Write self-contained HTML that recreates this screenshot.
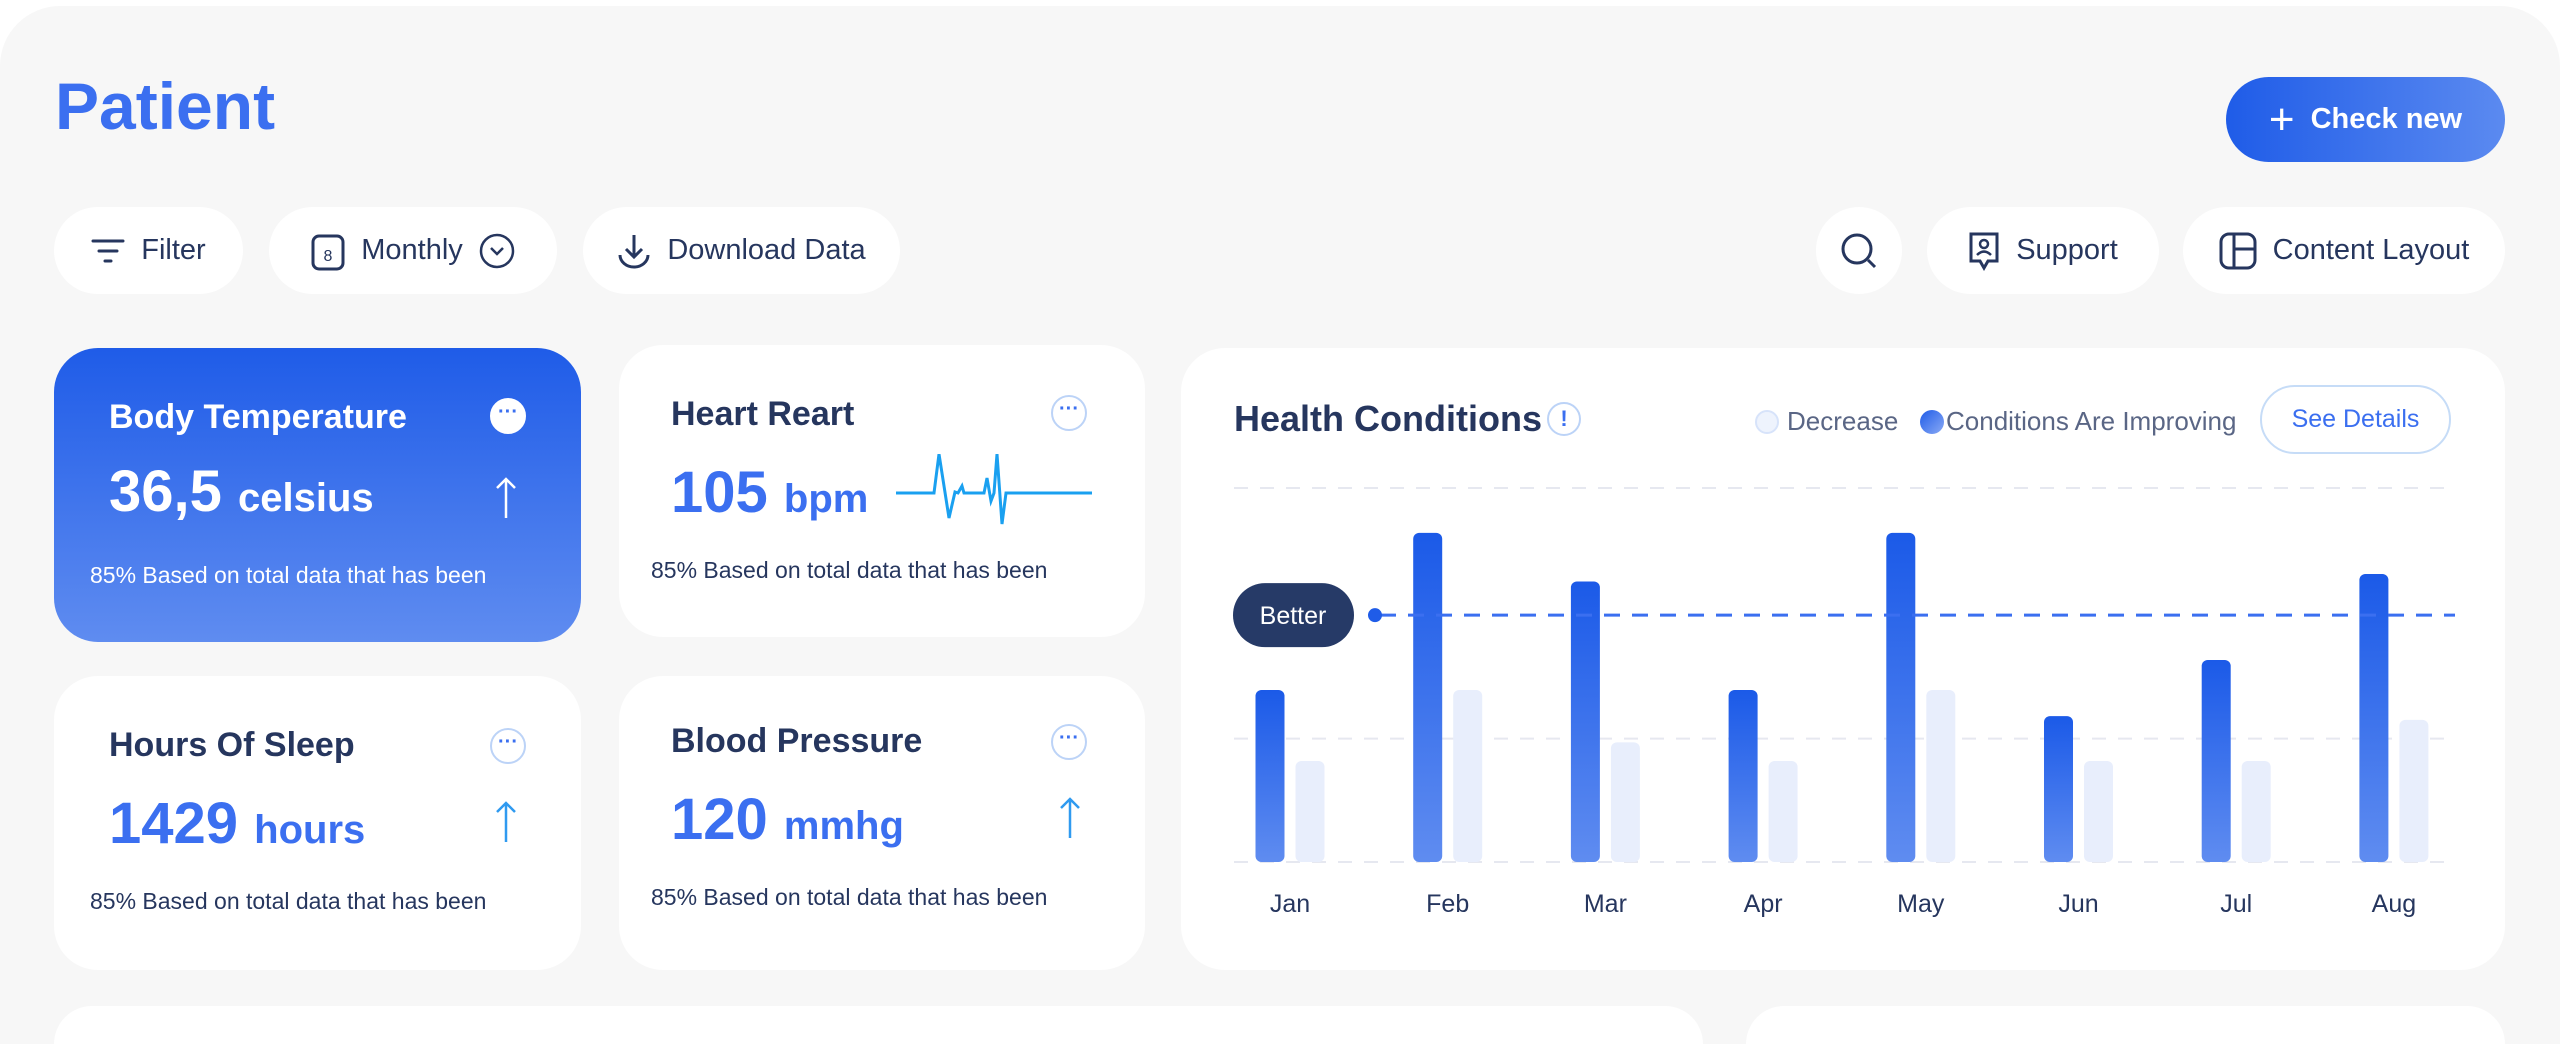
<!DOCTYPE html>
<html><head><meta charset="utf-8"><style>
*{box-sizing:border-box;margin:0;padding:0}
html,body{width:2560px;height:1044px;overflow:hidden}
body{background:#fff;font-family:"Liberation Sans",sans-serif;position:relative;color:#26365e}
.abs{position:absolute}
.panel{left:0;top:6px;width:2560px;height:1038px;background:#f7f7f7;border-radius:60px 60px 0 0}
.pill{position:absolute;background:#fff;border-radius:44px;display:flex;align-items:center;justify-content:center;gap:16px;font-size:29px;color:#26365e}
.card{position:absolute;background:#fff;border-radius:44px}
.ct{position:absolute;font-weight:bold;font-size:34px;color:#26365e}
.cap{position:absolute;font-size:23px;color:#26365e}
.num{position:absolute;font-weight:bold;color:#3b6ff0;font-size:58px}
.num span{font-size:40px}
.dots{position:absolute;width:36px;height:36px;border-radius:50%;border:2px solid #bcd3f7;color:#3b6ff0;font-size:20px;text-align:center;line-height:24px;font-weight:bold}
.arrow{position:absolute}
</style></head><body>
<div class="abs panel"></div>
<div class="abs" style="left:55px;top:68px;font-size:66px;font-weight:bold;color:#3b6ff0">Patient</div>
<div class="pill" style="left:2226px;top:77px;width:279px;height:85px;background:linear-gradient(90deg,#1f5ce8,#5b8af0);color:#fff;font-weight:bold;font-size:29px"><span style="font-size:44px;font-weight:normal">+</span>Check new</div>

<div class="pill" style="left:54px;top:207px;width:189px;height:87px"><svg width="34" height="26"><path d="M2 3H32M8 13H26M14 23H20" stroke="#26365e" stroke-width="3" stroke-linecap="round"/></svg>Filter</div>
<div class="pill" style="left:269px;top:207px;width:288px;height:87px"><svg width="34" height="40"><rect x="2" y="5" width="30" height="33" rx="6" fill="none" stroke="#26365e" stroke-width="3"/><text x="17" y="30" font-size="16" text-anchor="middle" fill="#26365e" font-family="Liberation Sans">8</text></svg>Monthly<svg width="36" height="36"><circle cx="18" cy="18" r="16" fill="none" stroke="#26365e" stroke-width="2.5"/><path d="M12 15L18 21L24 15" fill="none" stroke="#26365e" stroke-width="2.5"/></svg></div>
<div class="pill" style="left:583px;top:207px;width:317px;height:87px"><svg width="34" height="36"><path d="M17 2V24M9 16L17 24L25 16M3 22A14 12 0 0 0 31 22" fill="none" stroke="#26365e" stroke-width="3"/></svg>Download Data</div>
<div class="pill" style="left:1816px;top:207px;width:86px;height:87px"><svg width="40" height="40"><circle cx="18" cy="18" r="14" fill="none" stroke="#26365e" stroke-width="3"/><path d="M29 29L36 36" stroke="#26365e" stroke-width="3"/></svg></div>
<div class="pill" style="left:1927px;top:207px;width:232px;height:87px"><svg width="32" height="40"><path d="M3 3H29V30H20L16 37L12 30H3Z" fill="none" stroke="#26365e" stroke-width="3"/><circle cx="16" cy="13" r="4" fill="none" stroke="#26365e" stroke-width="2.5"/><path d="M9 24Q16 17 23 24" fill="none" stroke="#26365e" stroke-width="2.5"/></svg>Support</div>
<div class="pill" style="left:2183px;top:207px;width:322px;height:87px"><svg width="38" height="38"><rect x="2" y="2" width="34" height="34" rx="8" fill="none" stroke="#26365e" stroke-width="3"/><path d="M15 2V36M15 17H36" stroke="#26365e" stroke-width="3"/></svg>Content Layout</div>

<div class="card" style="left:54px;top:348px;width:527px;height:294px;background:linear-gradient(180deg,#1f5ce8,#5f8cf0)">
<div class="ct" style="left:55px;top:50px;color:#fff">Body Temperature</div>
<div class="dots" style="left:436px;top:50px;background:#fff;border-color:#fff">···</div>
<div class="num" style="left:55px;top:110px;color:#fff">36,5 <span>celsius</span></div>
<svg class="arrow" style="left:440px;top:128px" width="24" height="44"><path d="M12 42V3M3 12L12 3L21 12" fill="none" stroke="#fff" stroke-width="2.5"/></svg>
<div class="cap" style="left:36px;top:214px;color:#fff">85% Based on total data that has been</div></div>

<div class="card" style="left:619px;top:345px;width:526px;height:292px">
<div class="ct" style="left:52px;top:50px">Heart Reart</div>
<div class="dots" style="left:432px;top:50px">···</div>
<div class="num" style="left:52px;top:114px">105 <span>bpm</span></div>
<svg class="abs" style="left:277px;top:109px" width="200" height="74"><polyline points="0,39 38,39 43,0 53,64 59,38 62,39 66,32 68,39 88,39 91,24 95,47 98,39 101,0 106,70 110,39 196,39" fill="none" stroke="#1aa0f0" stroke-width="3"/></svg>
<div class="cap" style="left:32px;top:212px">85% Based on total data that has been</div></div>

<div class="card" style="left:54px;top:676px;width:527px;height:294px">
<div class="ct" style="left:55px;top:50px">Hours Of Sleep</div>
<div class="dots" style="left:436px;top:52px">···</div>
<div class="num" style="left:55px;top:114px">1429 <span>hours</span></div>
<svg class="arrow" style="left:440px;top:124px" width="24" height="44"><path d="M12 42V3M3 12L12 3L21 12" fill="none" stroke="#2f9af0" stroke-width="2.5"/></svg>
<div class="cap" style="left:36px;top:212px">85% Based on total data that has been</div></div>

<div class="card" style="left:619px;top:676px;width:526px;height:294px">
<div class="ct" style="left:52px;top:46px">Blood Pressure</div>
<div class="dots" style="left:432px;top:48px">···</div>
<div class="num" style="left:52px;top:110px">120 <span>mmhg</span></div>
<svg class="arrow" style="left:439px;top:120px" width="24" height="44"><path d="M12 42V3M3 12L12 3L21 12" fill="none" stroke="#2f9af0" stroke-width="2.5"/></svg>
<div class="cap" style="left:32px;top:208px">85% Based on total data that has been</div></div>

<div class="card" style="left:1181px;top:348px;width:1324px;height:622px"></div>
<div class="abs" style="left:1234px;top:398px;font-size:36px;font-weight:bold">Health Conditions</div>
<div class="abs" style="left:1547px;top:402px;width:34px;height:34px;border-radius:50%;border:2px solid #bcd3f7;color:#3b6ff0;text-align:center;font-size:22px;line-height:30px;font-weight:bold">!</div>
<div class="abs" style="left:1755px;top:406px;display:flex;align-items:center;gap:8px;font-size:26px;color:#5a6685"><span style="width:24px;height:24px;border-radius:50%;background:#eef3fd;border:2px solid #d7e3fa"></span>Decrease</div>
<div class="abs" style="left:1920px;top:406px;display:flex;align-items:center;gap:2px;font-size:26px;color:#5a6685"><span style="width:24px;height:24px;border-radius:50%;background:linear-gradient(135deg,#1f5ce8,#8aaaf5)"></span>Conditions Are Improving</div>
<div class="pill" style="left:2260px;top:385px;width:191px;height:69px;border:2px solid #c6dcf7;color:#3b6ff0;font-size:25px">See Details</div>

<svg class="abs" style="left:0;top:0" width="2560" height="1044" id="chart">
<defs><linearGradient id="bg" x1="0" y1="0" x2="0" y2="1"><stop offset="0" stop-color="#1b5ae8"/><stop offset="1" stop-color="#5f8cf0"/></linearGradient></defs>
</svg>
<script>
const months=["Jan","Feb","Mar","Apr","May","Jun","Jul","Aug"];
const improving=[46,88,75,46,88,39,54,77];
const decrease=[27,46,32,27,46,27,27,38];
const betterValue=66;
const gridValues=[0,33,100];
const svg=document.getElementById('chart');
const NS='http://www.w3.org/2000/svg';
const y0=862,yTop=488,x0=1290,step=157.7,bw=29;
const y=v=>y0-(y0-yTop)*v/100;
const x=i=>x0+i*step;
function mk(t,a){const e=document.createElementNS(NS,t);for(const k in a)e.setAttribute(k,a[k]);svg.appendChild(e);return e;}
gridValues.forEach(g=>{const l=mk('line',{x1:1234,x2:2455,y1:y(g),y2:y(g),stroke:'#e6e8f0','stroke-width':2,'stroke-dasharray':'14 12'});

});
months.forEach((m,i)=>{
const b=mk('rect',{x:x(i)-20-bw/2,y:y(improving[i]),width:bw,height:y0-y(improving[i]),rx:6,fill:'url(#bg)'});


const d=mk('rect',{x:x(i)+20-bw/2,y:y(decrease[i]),width:bw,height:y0-y(decrease[i]),rx:6,fill:'#e8eefc'});


const t=mk('text',{x:x(i),y:912,'text-anchor':'middle','font-size':25,fill:'#26365e','font-family':'Liberation Sans'});t.textContent=m;


});
const bl=mk('line',{x1:1380,x2:2455,y1:y(betterValue),y2:y(betterValue),stroke:'#3b6ff0','stroke-width':3,'stroke-dasharray':'16 12'});


const dot=mk('circle',{cx:1375,cy:y(betterValue),r:7,fill:'#1f5ce8'});


const bp=mk('rect',{x:1233,y:y(betterValue)-32,width:121,height:64,rx:32,fill:'#263a67'});


const bt=mk('text',{x:1293,y:y(betterValue)+9,'text-anchor':'middle','font-size':25,fill:'#fff','font-family':'Liberation Sans'});bt.textContent='Better';


</script>

<div class="card" style="left:54px;top:1006px;width:1649px;height:38px;border-radius:44px 44px 0 0"></div>
<div class="card" style="left:1746px;top:1006px;width:759px;height:38px;border-radius:44px 44px 0 0"></div>
</body></html>
